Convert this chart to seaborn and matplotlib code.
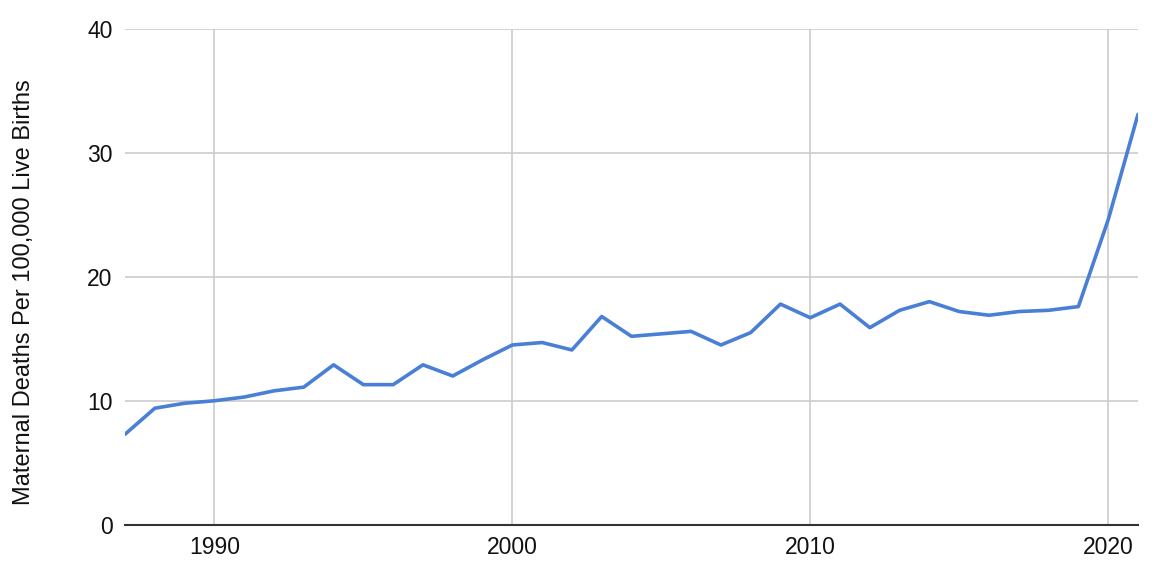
import matplotlib
matplotlib.use("Agg")
import matplotlib.pyplot as plt
import seaborn as sns
import pandas as pd

years = list(range(1987, 2022))
rates = [7.3, 9.4, 9.8, 10.0, 10.3, 10.8, 11.1, 12.9, 11.3, 11.3,
         12.9, 12.0, 13.3, 14.5, 14.7, 14.1, 16.8, 15.2, 15.4, 15.6,
         14.5, 15.5, 17.8, 16.7, 17.8, 15.9, 17.3, 18.0, 17.2, 16.9,
         17.2, 17.3, 17.6, 24.6, 33.1]
x_ticks = [1990, 2000, 2010, 2020]
y_ticks = [0, 10, 20, 30, 40]
y_label = "Maternal Deaths Per 100,000 Live Births"

df = pd.DataFrame({"year": years, "rate": rates})

sns.set_style("white")
plt.rcParams["font.family"] = ["Liberation Sans", "DejaVu Sans"]

fig = plt.figure(figsize=(11.6, 5.74), dpi=100)
ax = fig.add_axes([0.1078, 0.0859, 0.981 - 0.1078, 0.9495 - 0.0859])

sns.lineplot(data=df, x="year", y="rate", ax=ax, color="#4a7fd6", linewidth=2.6)

ax.set_xlim(1987, 2021)
ax.set_ylim(0, 40)
ax.set_xticks(x_ticks)
ax.set_yticks(y_ticks)
ax.set_xticklabels([str(t) for t in x_ticks], fontsize=16.5, color="#111111")
ax.set_yticklabels([str(t) for t in y_ticks], fontsize=16.5, color="#111111")
ax.tick_params(axis="both", length=0)
ax.tick_params(axis="x", pad=8)
ax.tick_params(axis="y", pad=9)
ax.grid(True, color="#cccccc", linewidth=1.2)
ax.set_axisbelow(True)
for s in ["top", "right", "left"]:
    ax.spines[s].set_visible(False)
ax.spines["bottom"].set_color("#333333")
ax.spines["bottom"].set_linewidth(1.5)
ax.spines["bottom"].set_zorder(3)
ax.set_xlabel("")
ax.set_ylabel(y_label, fontsize=17, color="#111111")
ax.yaxis.set_label_coords(24 / 1160, 1 - 292 / 574, transform=fig.transFigure)
ax.yaxis.label.set_va("center")

fig.savefig("out.png", dpi=100)
